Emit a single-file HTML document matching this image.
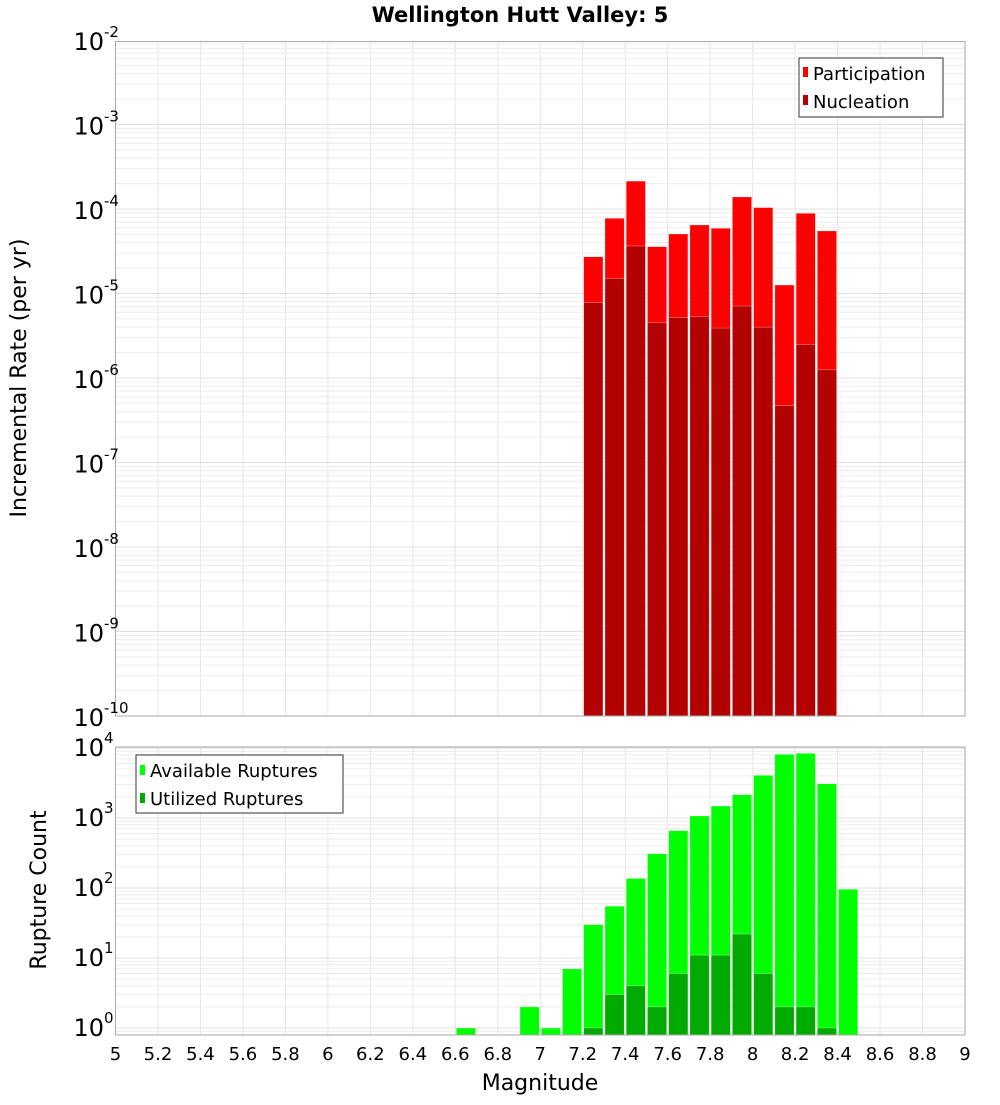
<!DOCTYPE html>
<html><head><meta charset="utf-8"><style>
body{margin:0;background:#fff;}
svg text{font-family:"DejaVu Sans","Liberation Sans",sans-serif;}
</style></head><body>
<svg id="chart" width="1000" height="1100" xmlns="http://www.w3.org/2000/svg">
<rect width="1000" height="1100" fill="#fff"/>
<text x="520" y="22" text-anchor="middle" font-size="21" font-weight="bold">Wellington Hutt Valley: 5</text>
<g id="topPanel"></g><g id="botPanel"></g>
<text transform="translate(26,378) rotate(-90)" text-anchor="middle" font-size="22">Incremental Rate (per yr)</text>
<text transform="translate(46,890) rotate(-90)" text-anchor="middle" font-size="22">Rupture Count</text>
<text x="540" y="1090" text-anchor="middle" font-size="22">Magnitude</text>
<g>
<rect x="799" y="58" width="144" height="59" fill="#fff" stroke="#333"/>
<rect x="803" y="67" width="5" height="10" fill="#ff0000"/>
<text x="813" y="80" font-size="18">Participation</text>
<rect x="803" y="95" width="5" height="10" fill="#b30000"/>
<text x="813" y="108" font-size="18">Nucleation</text>
</g>
<g>
<rect x="136" y="755" width="207" height="58" fill="#fff" stroke="#333"/>
<rect x="140" y="765" width="5" height="10" fill="#00ff00"/>
<text x="150" y="777" font-size="18">Available Ruptures</text>
<rect x="140" y="793" width="5" height="10" fill="#00aa00"/>
<text x="150" y="805" font-size="18">Utilized Ruptures</text>
</g>
</svg>
<script>
const topMags=[7.25,7.35,7.45,7.55,7.65,7.75,7.85,7.95,8.05,8.15,8.25,8.35];
const participation=[2.72e-5,7.76e-5,2.14e-4,3.58e-5,5.06e-5,6.47e-5,5.92e-5,1.39e-4,1.04e-4,1.26e-5,8.9e-5,5.5e-5];
const nucleation=[7.8e-6,1.51e-5,3.65e-5,4.5e-6,5.2e-6,5.3e-6,3.9e-6,7.1e-6,4.0e-6,4.7e-7,2.5e-6,1.25e-6];
const availMags=[6.65,6.95,7.05,7.15,7.25,7.35,7.45,7.55,7.65,7.75,7.85,7.95,8.05,8.15,8.25,8.35,8.45];
const available=[1,2,1,7,30,55,137,309,659,1068,1484,2150,4070,8130,8400,3090,96];
const utilMags=[7.25,7.35,7.45,7.55,7.65,7.75,7.85,7.95,8.05,8.15,8.25,8.35];
const utilized=[1,3,4,2,6,11,11,22,6,2,2,1];
const xTicks=[5,5.2,5.4,5.6,5.8,6,6.2,6.4,6.6,6.8,7,7.2,7.4,7.6,7.8,8,8.2,8.4,8.6,8.8,9];
const topDecades=[-2,-3,-4,-5,-6,-7,-8,-9,-10];
const botDecades=[0,1,2,3,4];
const NS="http://www.w3.org/2000/svg";
const X0=115.5,X1=965;
const xs=m=>X0+(m-5)/4*(X1-X0);
const yTop=v=>40-84.5*(Math.log10(v)+2);
const yBot=v=>1028-70*Math.log10(v);
function mk(p,tag,attrs){const e=document.createElementNS(NS,tag);for(const k in attrs)e.setAttribute(k,attrs[k]);p.appendChild(e);return e;}
function panel(g,yT,yB,decLo,decHi,yf,name){
  const bg=mk(g,'g',{});
  
  
  for(const t of xTicks){mk(bg,'line',{x1:xs(t),x2:xs(t),y1:yT,y2:yB,stroke:'#e6e6e6'});}
  for(let d=decLo;d<=decHi;d++){for(let k=1;k<10;k++){const y=yf(k*Math.pow(10,d));if(y>=yT&&y<=yB)mk(bg,'line',{x1:X0,x2:X1,y1:y,y2:y,stroke:k==1?'#e0e0e0':'#ececec'});}}
}
function bars(g,mags,vals,yf,base,color,name){
  mags.forEach((m,i)=>{const x=xs(m-0.05)+1,w=xs(m+0.05)-xs(m-0.05)-2,y=yf(vals[i]);
    const r=mk(g,'rect',{x:x,y:y,width:w,height:base-y,fill:color,stroke:'rgba(255,255,255,0.6)','stroke-width':0.5});
    
    });
}
function supLabel(g,x,y,exp,name){
  const t=mk(g,'text',{x:x,y:y,'text-anchor':'end','font-size':24});
  
  
  t.textContent='10';
  const s=mk(g,'text',{x:x,y:y-13,'font-size':15});
  s.textContent=exp;
}
const topG=document.getElementById('topPanel');
panel(topG,41.5,716,-10,-2,yTop,'top');
bars(topG,topMags,participation,yTop,716,'#ff0000','participation-bar');
bars(topG,topMags,nucleation,yTop,716,'#b30000','nucleation-bar');
mk(topG,'rect',{x:X0,y:41.5,width:X1-X0,height:716-41.5,fill:'none',stroke:'#aaa'});
topDecades.forEach(d=>supLabel(topG,104,yTop(Math.pow(10,d))+10,String(d),'top-y-tick-label'));
const botG=document.getElementById('botPanel');
panel(botG,747,1035,-1,4,yBot,'bottom');
bars(botG,availMags,available,yBot,1035,'#00ff00','available-bar');
bars(botG,utilMags,utilized,yBot,1035,'#00aa00','utilized-bar');
mk(botG,'rect',{x:X0,y:747,width:X1-X0,height:1035-747,fill:'none',stroke:'#aaa'});
botDecades.forEach(d=>supLabel(botG,104,yBot(Math.pow(10,d))+8,String(d),'bottom-y-tick-label'));
xTicks.forEach(t=>{const e=mk(botG,'text',{x:xs(t),y:1060,'text-anchor':'middle','font-size':18});
  
  
  e.textContent=String(t);});
</script>
</body></html>
